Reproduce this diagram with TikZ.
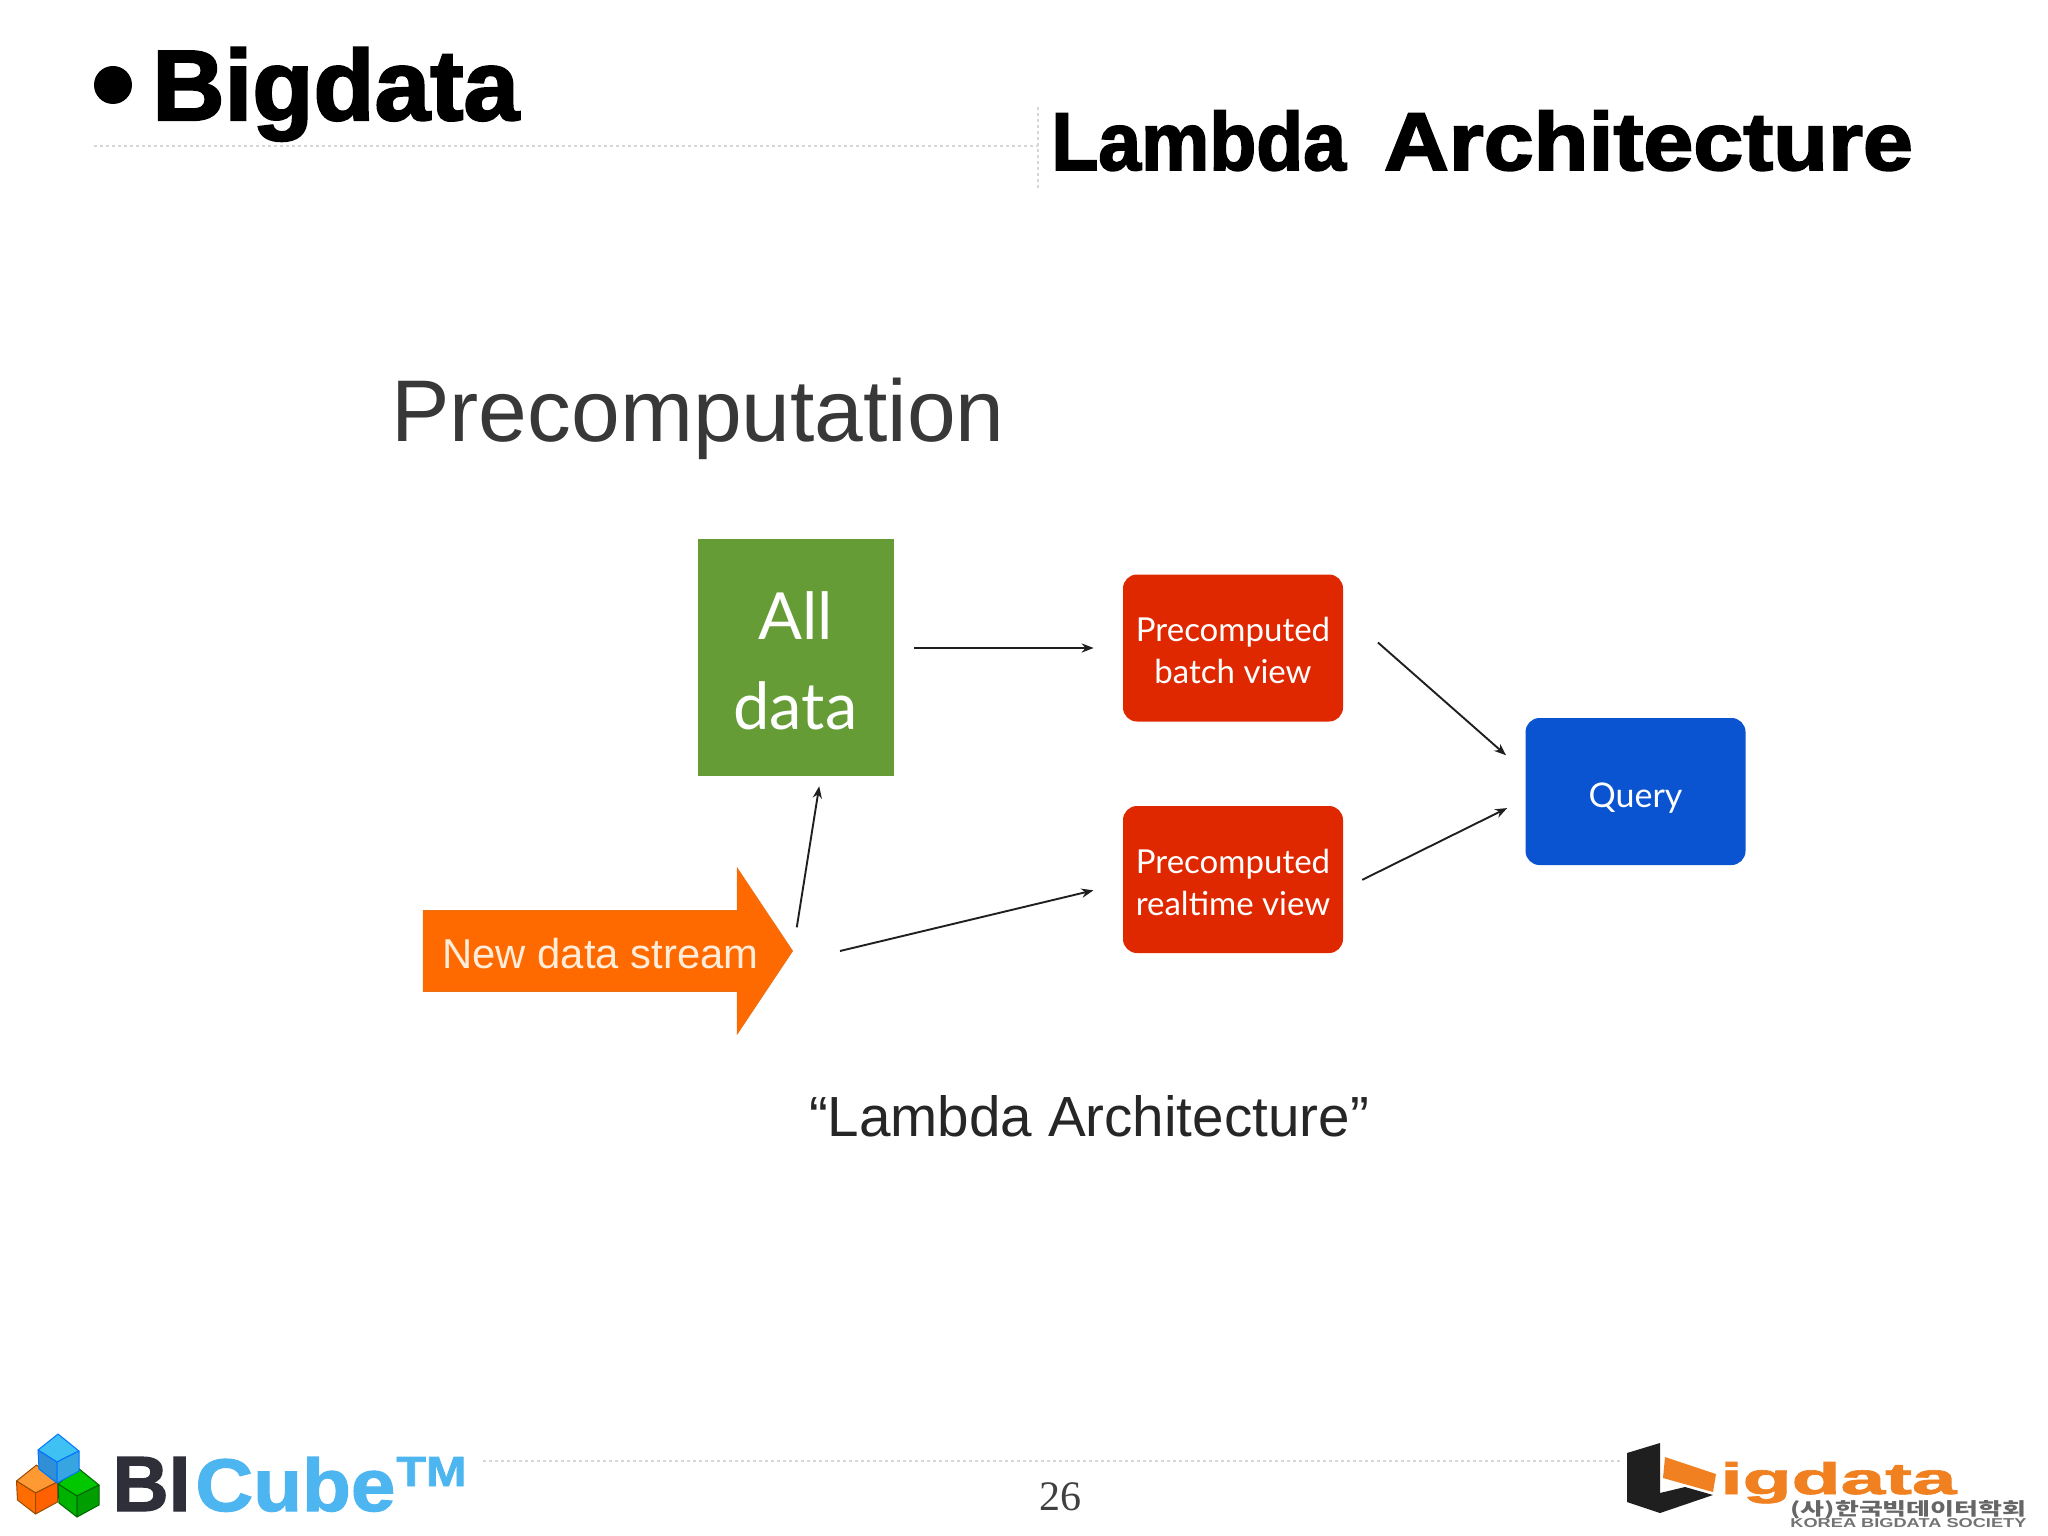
\documentclass[tikz,border=0pt]{standalone}
\usepackage{fontspec}
\usepackage{graphicx}
\setmainfont{Liberation Sans}
\newfontfamily\slidefont{Liberation Sans}
\newfontfamily\boxfont{Lato}
\newfontfamily\headfont{Liberation Sans}[BoldFeatures={FakeBold=2.2}]
\newfontfamily\logofont{Liberation Sans}[BoldFeatures={FakeBold=1.5}]
\newfontfamily\numfont{Liberation Serif}
\newfontfamily\krfont{Noto Sans CJK KR}
\usetikzlibrary{calc, positioning, arrows.meta, shapes.arrows}
\definecolor{dataGreen}{HTML}{659C35}
\definecolor{viewRed}{HTML}{E02800}
\definecolor{queryBlue}{HTML}{0A54D2}
\definecolor{streamOrange}{HTML}{FF6A00}
\definecolor{logoOrange}{HTML}{F08020}
\definecolor{logoDark}{HTML}{2F2F3A}
\definecolor{logoSky}{HTML}{4DB6F0}
\tikzset{
  head/.style={inner sep=0pt, anchor=base west},
  rule/.style={black!16, line width=0.6pt, dash pattern=on 1.5pt off 1.5pt},
  viewbox/.style={fill=viewRed, rounded corners=7pt, minimum width=110pt, minimum height=73.5pt,
    text=white, align=center, font=\boxfont\fontsize{16.5}{21}\selectfont, inner sep=0pt},
  arr/.style={-{Stealth[length=6pt, width=4.6pt]}, line width=0.95pt, black!88},
}
\def\UnitPx{0.5pt}
\newcommand{\logocube}[5]{% centre, top, left, right, outline colours
  \begin{scope}[draw=#5, line width=0.5pt, line join=round]
    \filldraw[fill=#2] ($#1+(0,-28)$) -- ($#1+(21,-11)$) -- ($#1+(-1,0)$) -- ($#1+(-20,-12)$) -- cycle;
    \filldraw[fill=#3] ($#1+(-20,-12)$) -- ($#1+(-1,0)$) -- ($#1+(-1,21)$) -- ($#1+(-19,7)$) -- cycle;
    \filldraw[fill=#4] ($#1+(21,-11)$) -- ($#1+(-1,0)$) -- ($#1+(-1,21)$) -- ($#1+(21,9)$) -- cycle;
  \end{scope}
}
\begin{document}
\begin{tikzpicture}[x=\UnitPx, y=-\UnitPx]
  \useasboundingbox (0,0) rectangle (2048,1535);
  \fill[white] (0,0) rectangle (2048,1535);

  % ----- slide header -----
  \node[circle, fill=black, minimum size=19pt, inner sep=0pt] (bullet) at (113,85) {};
  \node[head, font=\headfont\bfseries\fontsize{50}{56}\selectfont] (title) at (152,120) {Bigdata};
  \node[head, font=\headfont\bfseries\fontsize{41}{48}\selectfont] (subtitle) at (1051,170)
    {\scalebox{0.937}[1]{Lambda}\hspace{19pt}\scalebox{1.095}[1]{Architecture}};
  \draw[rule] (94,146) -- (1038,146);
  \draw[rule] (1038,107) -- (1038,190);
  \draw[rule] (483,1461) -- (1620,1461);

  % ----- diagram -----
  \node[font=\slidefont\fontsize{43.8}{50}\selectfont, text=black!78, inner sep=0pt, anchor=base] (heading) at (698,441)
    {Precomputation};

  \node[fill=dataGreen, minimum width=98pt, minimum height=118.5pt, inner sep=0pt, text=white, align=center,
    font=\boxfont\fontsize{32.5}{45}\selectfont] (alldata) at (795.5,657.5) {\rule{0pt}{27pt}All\\data};
  \node[viewbox] (batchview) at (1233,648) {\rule{0pt}{15pt}Precomputed\\batch view};
  \node[viewbox] (realtimeview) at (1233,879.5) {\rule{0pt}{15pt}Precomputed\\realtime view};
  \node[viewbox, fill=queryBlue, font=\boxfont\fontsize{17}{21}\selectfont] (query) at (1635.5,791.5)
    {\rule{0pt}{18.5pt}Query};

  \node[single arrow, fill=streamOrange, draw=streamOrange!70!brown, line width=0.5pt, anchor=tip,
    single arrow head extend=20.5pt, single arrow tip angle=112.6, single arrow head indent=0pt,
    minimum width=82.5pt, minimum height=184.5pt, inner xsep=0pt, inner ysep=10.2pt, text=orange!15!white,
    font=\slidefont\fontsize{20.9}{25}\selectfont] (stream) at (793,951)
    {\kern6pt\rule{0pt}{18pt}New data stream};
  \coordinate (streamout) at (840,951);

  \draw[arr, shorten >=14.5pt, shorten <=10pt] (alldata.east |- batchview.west) -- (batchview.west);
  \draw[arr, shorten >=12.7pt, shorten <=23pt] (batchview.18) -- (query.170);
  \draw[arr, shorten >=10pt, shorten <=10.5pt] (realtimeview.-5.5) -- (query.184);
  \draw[arr, shorten >=15pt] (streamout) -- (realtimeview.182.3);
  \draw[arr, shorten >=5pt, shorten <=12pt] (stream.tip) -- (alldata.282.4);

  \node[font=\slidefont\fontsize{28.3}{32}\selectfont, text=black!85, inner sep=0pt] (caption) at (1089,1116)
    {“Lambda Architecture”};

  % ----- page number -----
  \node[font=\numfont\fontsize{21}{24}\selectfont, text=black!75, inner sep=0pt] (pagenum) at (1060,1497) {26};

  % ----- left logo -----
  \logocube{(36.5,1493)}{orange!80!white}{orange!85!red}{orange!75!red}{orange!60!black}
  \logocube{(78,1496)}{green!78!black}{green!70!black}{green!62!black}{green!40!black}
  \logocube{(58,1462)}{cyan!75!white}{cyan!65!blue!85!white}{cyan!80!blue!80!white}{blue!55!cyan}
  \node[inner sep=0pt, anchor=base west, text=logoDark, font=\logofont\bfseries] (logoBI) at (112,1511)
    {\resizebox{39pt}{27pt}{BI}};
  \node[inner sep=0pt, anchor=base west, text=logoSky, font=\logofont\bfseries] (logoCube) at (195,1511)
    {\resizebox{100pt}{27pt}{Cube}};
  \node[inner sep=0pt, anchor=base west, text=logoSky, font=\logofont\bfseries] (logoTM) at (396,1486)
    {\resizebox{35pt}{14.5pt}{TM}};

  % ----- right logo -----
  \fill[black!88] (1660,1443) -- (1627,1453) -- (1627,1502) -- (1660,1513) -- (1713,1495)
    -- (1685,1487) -- (1660,1493) -- cycle;
  \fill[logoOrange] (1665,1457) -- (1716,1474) -- (1713,1492) -- (1663,1478) -- cycle;
  \node[inner sep=0pt, anchor=base west, text=logoOrange, font=\logofont\bfseries] (logoBig) at (1720,1494)
    {\resizebox{118pt}{16pt}{igdata}};
  \node[inner sep=0pt, anchor=base west, text=black!60, font=\krfont\bfseries] (logoKr) at (1790,1515)
    {\resizebox{118pt}{7.5pt}{(사)한국빅데이터학회}};
  \node[inner sep=0pt, anchor=base west, text=black!55, font=\slidefont\bfseries] (logoEn) at (1790,1527)
    {\resizebox{118pt}{4.5pt}{KOREA BIGDATA SOCIETY}};
\end{tikzpicture}
\end{document}
